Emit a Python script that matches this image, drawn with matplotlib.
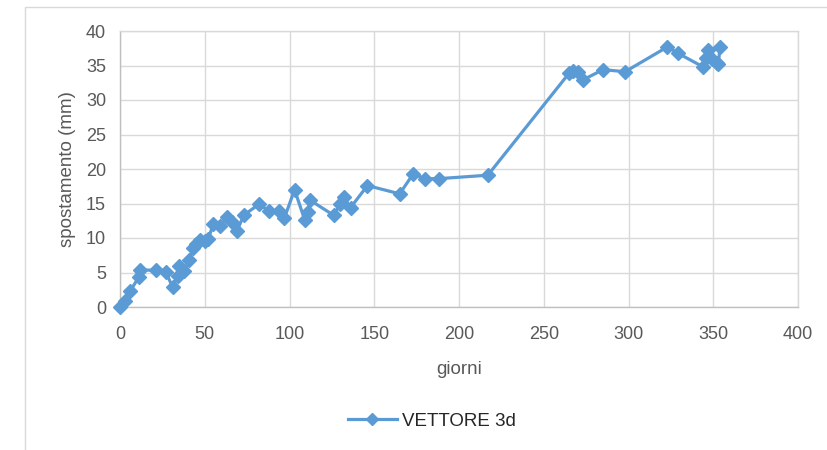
import matplotlib
matplotlib.use("Agg")
import matplotlib.pyplot as plt
from matplotlib import font_manager
from matplotlib.patches import Rectangle
from matplotlib.lines import Line2D

names = {f.name for f in font_manager.fontManager.ttflist}
fam = "Liberation Sans Narrow" if "Liberation Sans Narrow" in names else "Liberation Sans"
plt.rcParams['font.family'] = [fam, 'DejaVu Sans']

giorni = [0, 3, 6, 11, 12, 21, 27, 31, 34, 35, 38, 41, 43, 45, 47, 50, 52, 55, 59, 63, 66, 69, 73,
          82, 88, 94, 97, 103, 109, 111, 112, 126, 130, 132, 136, 146, 165, 173, 180, 188, 217,
          265, 267, 270, 273, 285, 298, 323, 329, 344, 346, 347, 349, 352, 353, 354]
spostamento = [0, 0.8, 2.3, 4.3, 5.4, 5.3, 5.1, 2.9, 4.5, 5.9, 5.2, 6.8, 8.6, 9.1, 9.7, 9.5, 9.8, 12.0, 11.7, 13.0, 12.3, 11.0, 13.3,
               14.9, 13.9, 13.9, 12.9, 17.0, 12.6, 13.8, 15.5, 13.3, 14.9, 16.0, 14.4, 17.6, 16.4, 19.3, 18.6, 18.6, 19.1,
               33.9, 34.2, 34.1, 32.9, 34.4, 34.1, 37.7, 36.8, 34.8, 36.1, 37.3, 35.9, 35.4, 35.2, 37.7]
xticks = [0, 50, 100, 150, 200, 250, 300, 350, 400]
yticks = [0, 5, 10, 15, 20, 25, 30, 35, 40]
serie = "VETTORE 3d"

W, H = 827, 450
fig = plt.figure(figsize=(W/100, H/100), dpi=100)
fig.patches.append(Rectangle((25/W, -0.1), 1.2, 1 - 7/H + 0.1, transform=fig.transFigure,
                             fill=False, edgecolor='#d9d9d9', linewidth=1.0, zorder=0))

ax = fig.add_axes([120/W, 1 - 307/H, (798-120)/W, (307-31)/H])
color = '#5b9bd5'
ax.plot(giorni, spostamento, color=color, linewidth=2.3, marker='D', markersize=7,
        markerfacecolor=color, markeredgecolor=color, zorder=3, clip_on=False)
ax.set_xlim(0, 400)
ax.set_ylim(0, 40)
ax.set_xticks(xticks)
ax.set_yticks(yticks)
ax.grid(True, color='#d9d9d9', linewidth=1.0, zorder=0)
ax.set_axisbelow(True)
for s in ['top', 'right']:
    ax.spines[s].set_color('#d9d9d9')
    ax.spines[s].set_linewidth(1.0)
for s in ['left', 'bottom']:
    ax.spines[s].set_color('#bfbfbf')
    ax.spines[s].set_linewidth(1.0)
ax.tick_params(length=0, labelsize=13, labelcolor='#595959')
ax.tick_params(axis='x', pad=14)
ax.tick_params(axis='y', pad=10)
ax.set_xlabel('giorni', fontsize=13.5, color='#595959', labelpad=13)
ax.set_ylabel('spostamento (mm)', fontsize=13.5, color='#595959', labelpad=7)

handle = Line2D([], [], color=color, linewidth=2.3, marker='D', markersize=6.5,
                markerfacecolor=color, markeredgecolor=color)
fig.legend([handle], [serie], loc='center', bbox_to_anchor=(432/W, 1 - 421/H),
           frameon=False, fontsize=13.5, handlelength=2.6, handletextpad=0.3,
           labelcolor='#262626')

fig.savefig('out.png', dpi=100)
